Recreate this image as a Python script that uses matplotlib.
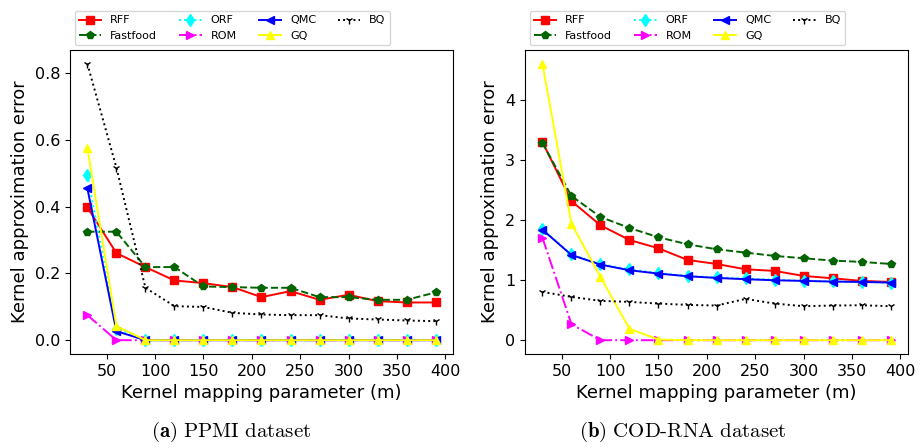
import matplotlib
matplotlib.use("Agg")
import matplotlib.pyplot as plt

plt.rcParams['mathtext.fontset'] = 'cm'

m = [30, 60, 90, 120, 150, 180, 210, 240, 270, 300, 330, 360, 390]
methods = ["RFF", "Fastfood", "ORF", "ROM", "QMC", "GQ", "BQ"]

# PPMI dataset
ppmi_rff = [0.398, 0.261, 0.219, 0.179, 0.171, 0.159, 0.129, 0.147, 0.121, 0.136, 0.117, 0.113, 0.113]
ppmi_fastfood = [0.325, 0.325, 0.219, 0.219, 0.161, 0.159, 0.157, 0.157, 0.129, 0.129, 0.121, 0.121, 0.143]
ppmi_orf = [0.495, 0.035, 0.0, 0.0, 0.0, 0.0, 0.0, 0.0, 0.0, 0.0, 0.0, 0.0, 0.0]
ppmi_rom = [0.075, 0.0, 0.0, 0.0, 0.0, 0.0, 0.0, 0.0, 0.0, 0.0, 0.0, 0.0, 0.0]
ppmi_qmc = [0.455, 0.027, 0.0, 0.0, 0.0, 0.0, 0.0, 0.0, 0.0, 0.0, 0.0, 0.0, 0.0]
ppmi_gq = [0.577, 0.042, 0.0, 0.0, 0.0, 0.0, 0.0, 0.0, 0.0, 0.0, 0.0, 0.0, 0.0]
ppmi_bq = [0.828, 0.517, 0.157, 0.102, 0.0995, 0.082, 0.077, 0.075, 0.075, 0.065, 0.062, 0.059, 0.057]

# COD-RNA dataset
cod_rff = [3.306, 2.322, 1.917, 1.672, 1.533, 1.339, 1.272, 1.183, 1.156, 1.072, 1.033, 0.989, 0.972]
cod_fastfood = [3.294, 2.406, 2.056, 1.872, 1.717, 1.600, 1.517, 1.461, 1.406, 1.367, 1.328, 1.306, 1.272]
cod_orf = [1.85, 1.43, 1.27, 1.18, 1.12, 1.07, 1.05, 1.03, 1.01, 0.99, 0.98, 0.97, 0.96]
cod_rom = [1.711, 0.267, 0.0, 0.0, 0.0, 0.0, 0.0, 0.0, 0.0, 0.0, 0.0, 0.0, 0.0]
cod_qmc = [1.844, 1.422, 1.261, 1.167, 1.111, 1.067, 1.039, 1.017, 1.000, 0.989, 0.978, 0.972, 0.961]
cod_gq = [4.611, 1.944, 1.056, 0.189, 0.01, 0.0, 0.0, 0.0, 0.0, 0.0, 0.0, 0.0, 0.0]
cod_bq = [0.806, 0.722, 0.656, 0.639, 0.611, 0.589, 0.578, 0.689, 0.611, 0.567, 0.578, 0.583, 0.567]

xlabel = "Kernel mapping parameter (m)"
ylabel = "Kernel approximation error"
captions = [r"$\mathbf{(a)}\ \mathrm{PPMI\ dataset}$", r"$\mathbf{(b)}\ \mathrm{COD\text{-}RNA\ dataset}$"]

styles = {
    "RFF": dict(color="red", ls="-", marker="s"),
    "Fastfood": dict(color="darkgreen", ls="--", marker="p"),
    "ORF": dict(color="cyan", ls=":", marker="d"),
    "ROM": dict(color="magenta", ls="-.", marker=">"),
    "QMC": dict(color="blue", ls="-", marker="<"),
    "GQ": dict(color="yellow", ls="-", marker="^"),
    "BQ": dict(color="black", ls=":", marker="1"),
}

fig = plt.figure(figsize=(9.23, 4.48), dpi=100)
ax1 = fig.add_axes([0.0758, 0.2098, 0.415, 0.6786])
ax2 = fig.add_axes([0.5688, 0.2098, 0.415, 0.6786])

datasets = [
    [ppmi_rff, ppmi_fastfood, ppmi_orf, ppmi_rom, ppmi_qmc, ppmi_gq, ppmi_bq],
    [cod_rff, cod_fastfood, cod_orf, cod_rom, cod_qmc, cod_gq, cod_bq],
]

for ax, data, cap, cx in zip([ax1, ax2], datasets, captions, [0.25, 0.74]):
    for name, vals in zip(methods, data):
        st = styles[name]
        ax.plot(m, vals, color=st["color"], linestyle=st["ls"], marker=st["marker"],
                markersize=6, linewidth=1.4, label=name)
    ax.set_xlabel(xlabel, fontsize=13)
    ax.set_ylabel(ylabel, fontsize=13)
    ax.tick_params(labelsize=11.5)
    ax.set_xticks([50, 100, 150, 200, 250, 300, 350, 400])
    ax.legend(ncol=4, fontsize=8, loc="lower left", bbox_to_anchor=(0.012, 1.015),
              borderaxespad=0.0, handlelength=2.0, columnspacing=2.0)
    fig.text(cx, 0.008, cap, ha="center", va="bottom", fontsize=15)

ax1.set_yticks([0.0, 0.2, 0.4, 0.6, 0.8])
ax2.set_yticks([0, 1, 2, 3, 4])

fig.savefig("out.png", dpi=100)
